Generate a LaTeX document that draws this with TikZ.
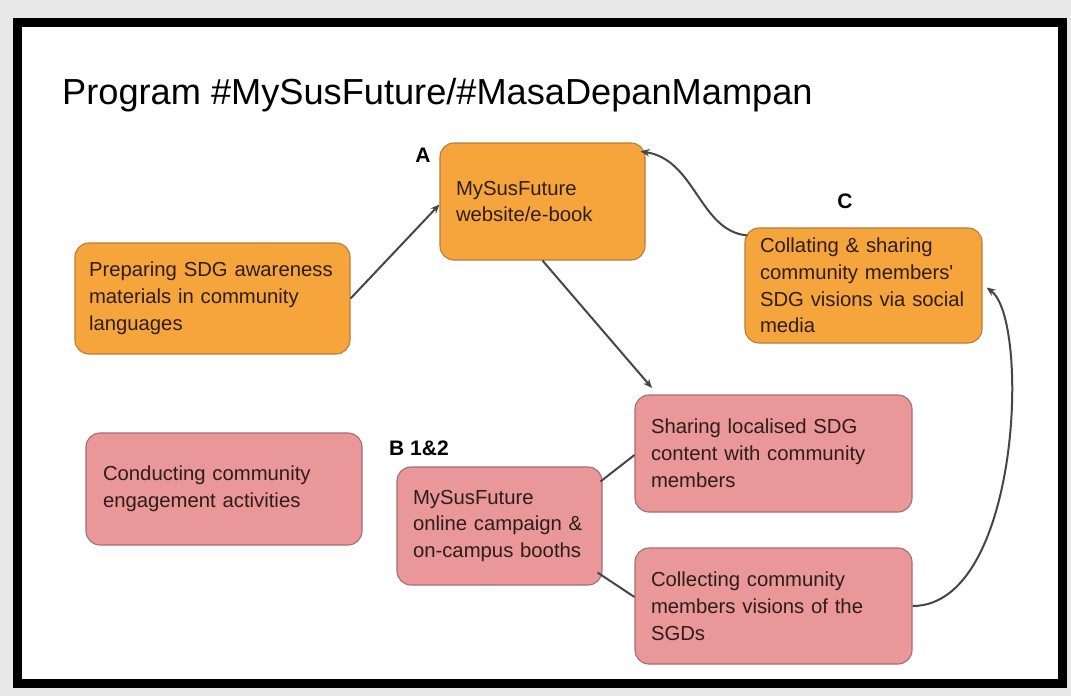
\documentclass[tikz,border=0pt]{standalone}
\usepackage{fontspec}
\setmainfont{Liberation Sans}
\usetikzlibrary{arrows.meta}
\definecolor{orfill}{RGB}{246,165,60}
\definecolor{ordraw}{RGB}{185,125,55}
\definecolor{pkfill}{RGB}{233,151,153}
\definecolor{pkdraw}{RGB}{165,110,110}
\definecolor{txt}{RGB}{45,30,25}
\definecolor{conn}{RGB}{70,70,70}
\definecolor{bg}{RGB}{232,232,232}
\begin{document}
\begin{tikzpicture}[x=1pt,y=-1pt,
  card/.style={draw, rounded corners=14pt, line width=1.1pt, align=left, text=txt,
    font=\fontsize{20.3}{26.8}\selectfont, inner ysep=0pt},
  orcard/.style={card, fill=orfill, draw=ordraw},
  pkcard/.style={card, fill=pkfill, draw=pkdraw},
  tag/.style={font=\bfseries\fontsize{21}{24}\selectfont, text=black, inner sep=0pt},
  link/.style={draw=conn, line width=2pt},
  arr/.style={link, -{Stealth[length=9pt,width=7.5pt]}}]
\useasboundingbox (0,0) rectangle (1071,696);
\fill[bg] (0,0) rectangle (1071,696);
\fill[white] (17,22) rectangle (1062,683);
\draw[line width=9pt] (17,22) rectangle (1062,683);

\node[anchor=base west, font=\fontsize{36.2}{40}\selectfont, inner sep=0pt] (title) at (62,104)
  {Program \#MySusFuture/\#MasaDepanMampan};

\node[orcard, inner xsep=14pt, text width=247pt, minimum height=111pt] (prep) at (212.5,298.5)
  {Preparing SDG awareness\\materials in community\\languages};
\node[orcard, inner xsep=16pt, text width=173pt, minimum height=117pt] (web) at (542.5,201.5)
  {MySusFuture\\website/e-book};
\node[orcard, inner xsep=15pt, text width=207pt, minimum height=115pt] (soc) at (863.5,285.5)
  {Collating \& sharing\\community members\textquotesingle\\SDG visions via social\\media};
\node[pkcard, inner xsep=17pt, text width=242pt, minimum height=112pt] (act) at (224,489)
  {Conducting community\\engagement activities};
\node[pkcard, inner xsep=16pt, text width=173pt, minimum height=118pt] (camp) at (499.5,526)
  {MySusFuture\\online campaign \&\\on-campus booths};
\node[pkcard, inner xsep=16pt, text width=245pt, minimum height=117pt] (share) at (773.5,453.5)
  {Sharing localised SDG\\content with community\\members};
\node[pkcard, inner xsep=16pt, text width=245pt, minimum height=116pt] (coll) at (773.5,606)
  {Collecting community\\members visions of the\\SGDs};

\node[tag, anchor=base] (la) at (423,162) {A};
\node[tag, anchor=base] (lc) at (845,208) {C};
\node[tag, anchor=base west] (lb) at (389,455) {B 1\&2};

\coordinate (webtip) at (652,388);
\draw[arr] (prep.east) -- ([yshift=-3pt]web.west);
\draw[arr] (web.south) -- (webtip);
\draw[arr] ([xshift=3pt,yshift=-8pt]soc.north west) .. controls +(-48,-4) and +(55,8) .. ([xshift=-5pt,yshift=-9pt]web.north east);
\draw[arr] (coll.east) .. controls +(108,0) and +(44,32) .. ([xshift=4pt,yshift=-2pt]soc.east);
\draw[link] ([xshift=-2pt,yshift=-15pt]camp.north east) -- ([yshift=-1.5pt]share.west);
\draw[link] ([xshift=-5pt,yshift=13pt]camp.south east) -- ([yshift=9pt]coll.west);
\end{tikzpicture}
\end{document}
